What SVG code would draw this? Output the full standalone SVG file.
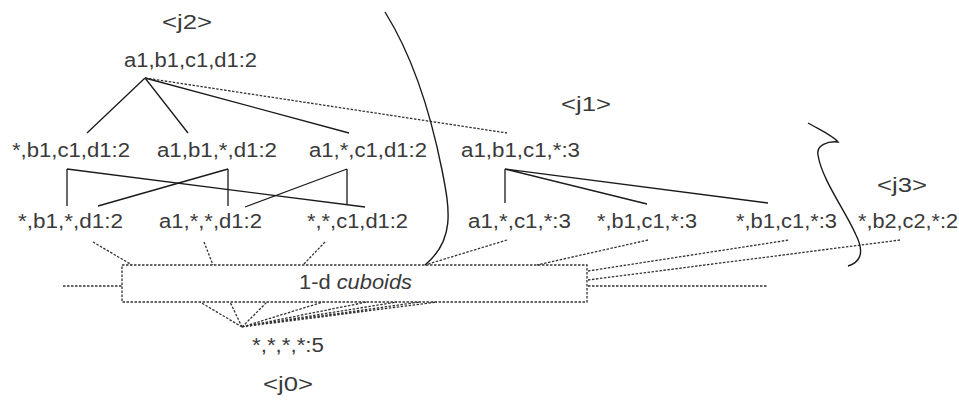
<svg xmlns="http://www.w3.org/2000/svg" width="959" height="401" viewBox="0 0 959 401">
  <style>
    text { font-family: "Liberation Sans", Arial, Helvetica, sans-serif; fill: #3a3a3a; }
    .node { font-size: 20px; }
    .tag { font-size: 21px; }
    .solid { fill: none; stroke: #1a1a1a; stroke-width: 1.3; }
    .dash { fill: none; stroke: #333; stroke-width: 1.3; stroke-dasharray: 2.5 1.5; }
    .curve { fill: none; stroke: #1a1a1a; stroke-width: 1.4; }
  </style>
  <rect width="959" height="401" fill="#fff"/>

  <!-- lattice connectors -->
  <g id="connectors">
    <!-- apex a1,b1,c1,d1 -->
    <path class="solid" d="M145,78 L87,133 M145,78 L188,133 M145,78 L349,133"/>
    <path class="dash" d="M145,78 L507,133"/>
    <!-- 3-d to 2-d, j2 -->
    <path class="solid" d="M67,169 L67,206 M67,169 L365,207"/>
    <path class="solid" d="M228,169 L228,206 M228,169 L98,206"/>
    <path class="solid" d="M347,169 L347,205 M347,169 L245,207"/>
    <!-- 3-d to 2-d, j1 -->
    <path class="solid" d="M505,169 L505,203 M505,169 L647,204 M505,169 L768,203"/>
    <!-- 2-d to the 1-d box -->
    <path class="dash" d="M93,242 L132,265 M204,242 L213,265 M325,242 L303,265 M507,240 L425,265 M648,240 L537,265"/>
    <path class="dash" d="M588,271 L789,240 M588,280 L900,240 M588,286 L768,286 M63,286 L122,286"/>
    <!-- 1-d box to apex *,*,*,* -->
    <path class="dash" d="M242,327 L200,302 M242,327 L230,302 M242,327 L267,302 M242,327 L323,302 M242,327 L367,302 M242,327 L397,302 M242,327 L420,302 M242,327 L437,302"/>
  </g>

  <!-- partition boundaries -->
  <g id="boundaries">
    <path class="curve" d="M385,12 C415,60 432,120 442,170 C450,210 455,240 425,265"/>
    <path class="curve" d="M808,123 C820,130 832,135 838,142 C828,141 816,145 818,155 C822,180 845,210 856,235 C866,255 858,263 848,266"/>
  </g>

  <!-- group tags -->
  <g id="tags">
    <text class="tag" x="162" y="29" textLength="50" lengthAdjust="spacingAndGlyphs">&lt;j2&gt;</text>
    <text class="tag" x="561" y="111" textLength="50" lengthAdjust="spacingAndGlyphs">&lt;j1&gt;</text>
    <text class="tag" x="877" y="192" textLength="50" lengthAdjust="spacingAndGlyphs">&lt;j3&gt;</text>
    <text class="tag" x="263" y="391" textLength="50" lengthAdjust="spacingAndGlyphs">&lt;j0&gt;</text>
  </g>

  <g id="n-a1b1c1d1"><text class="node" x="124" y="67" textLength="133" lengthAdjust="spacingAndGlyphs">a1,b1,c1,d1:2</text></g>

  <g id="n-b1c1d1"><text class="node" x="12" y="157" textLength="118" lengthAdjust="spacingAndGlyphs">*,b1,c1,d1:2</text></g>
  <g id="n-a1b1d1"><text class="node" x="157" y="157" textLength="120" lengthAdjust="spacingAndGlyphs">a1,b1,*,d1:2</text></g>
  <g id="n-a1c1d1"><text class="node" x="309" y="157" textLength="118" lengthAdjust="spacingAndGlyphs">a1,*,c1,d1:2</text></g>
  <g id="n-a1b1c1"><text class="node" x="461" y="157" textLength="119" lengthAdjust="spacingAndGlyphs">a1,b1,c1,*:3</text></g>

  <g id="n-b1d1"><text class="node" x="18" y="228" textLength="105" lengthAdjust="spacingAndGlyphs">*,b1,*,d1:2</text></g>
  <g id="n-a1d1"><text class="node" x="159" y="228" textLength="103" lengthAdjust="spacingAndGlyphs">a1,*,*,d1:2</text></g>
  <g id="n-c1d1"><text class="node" x="307" y="228" textLength="101" lengthAdjust="spacingAndGlyphs">*,*,c1,d1:2</text></g>
  <g id="n-a1c1"><text class="node" x="468" y="228" textLength="103" lengthAdjust="spacingAndGlyphs">a1,*,c1,*:3</text></g>
  <g id="n-b1c1-a"><text class="node" x="597" y="228" textLength="100" lengthAdjust="spacingAndGlyphs">*,b1,c1,*:3</text></g>
  <g id="n-b1c1-b"><text class="node" x="736" y="228" textLength="101" lengthAdjust="spacingAndGlyphs">*,b1,c1,*:3</text></g>
  <g id="n-b2c2"><text class="node" x="858" y="228" textLength="100" lengthAdjust="spacingAndGlyphs">*,b2,c2,*:2</text></g>

  <g id="n-cuboids1d">
    <rect class="dash" x="122" y="265" width="465" height="37"/>
    <text class="node" x="299" y="289" textLength="113" lengthAdjust="spacingAndGlyphs">1-d <tspan font-style="italic">cuboids</tspan></text>
  </g>

  <g id="n-all"><text class="node" x="252" y="352" textLength="72" lengthAdjust="spacingAndGlyphs">*,*,*,*:5</text></g>
</svg>
